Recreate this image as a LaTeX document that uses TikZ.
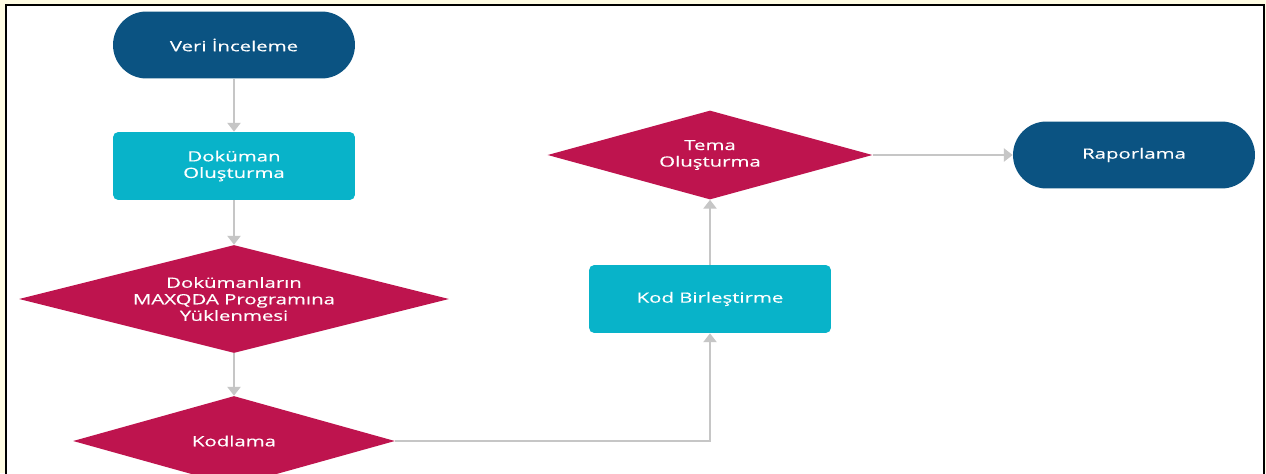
\documentclass[tikz,border=0pt]{standalone}
\usepackage{fontspec}
\setsansfont{Open Sans}[FakeStretch=1.45, FakeBold=0.4]
\usetikzlibrary{arrows.meta, shapes.geometric}
\definecolor{cnavy}{HTML}{0B5382}
\definecolor{cteal}{HTML}{08B3C9}
\definecolor{ccrimson}{HTML}{BE144E}
\definecolor{cgrey}{HTML}{C6C6C6}
\definecolor{cpaper}{HTML}{FFFCE3}
\tikzset{
  every picture/.style={font=\sffamily\fontsize{8}{9.4}\selectfont, x=0.02cm, y=-0.02cm},
  terminal/.style={fill=cnavy, text=white, rounded corners=0.67cm, minimum width=4.84cm, minimum height=1.34cm, align=center},
  process/.style={fill=cteal, text=white, rounded corners=3pt, minimum width=4.84cm, minimum height=1.36cm, align=center},
  decision/.style={diamond, aspect=3.8, fill=ccrimson, text=white, inner sep=0pt, align=center},
  arrow/.style={-{Triangle[length=5pt, width=7.5pt]}, draw=cgrey, line width=0.85pt},
}
\begin{document}
\begin{tikzpicture}
  \useasboundingbox (0,0) rectangle (1266,473);
  \clip (0,0) rectangle (1266,473);
  \fill[cpaper] (0,0) rectangle (1266,473);
  \draw[fill=white, line width=1.4pt] (6,5) rectangle (1264,490);
  % left column
  \node[terminal] (veri) at (234,45) {Veri İnceleme};
  \node[process] (dokuman) at (234,166) {Doküman\\Oluşturma};
  \node[decision, minimum width=8.6cm, minimum height=2.16cm] (yukleme) at (234,299) {Dokümanların\\MAXQDA Programına\\Yüklenmesi};
  \node[decision, minimum width=6.44cm, minimum height=1.8cm] (kodlama) at (234,441) {Kodlama};
  % right part
  \node[process] (birlestirme) at (710,299) {Kod Birleştirme};
  \node[decision, minimum width=6.5cm, minimum height=1.78cm] (tema) at (710,155) {Tema\\Oluşturma};
  \node[terminal] (rapor) at (1134,155) {Raporlama};
  % connectors
  \draw[arrow] (veri) -- (dokuman);
  \draw[arrow] (dokuman) -- (yukleme);
  \draw[arrow] (yukleme) -- (kodlama);
  \draw[arrow] (kodlama.east) -| (birlestirme.south);
  \draw[arrow] (birlestirme) -- (tema);
  \draw[arrow] (tema) -- (rapor);
\end{tikzpicture}
\end{document}
